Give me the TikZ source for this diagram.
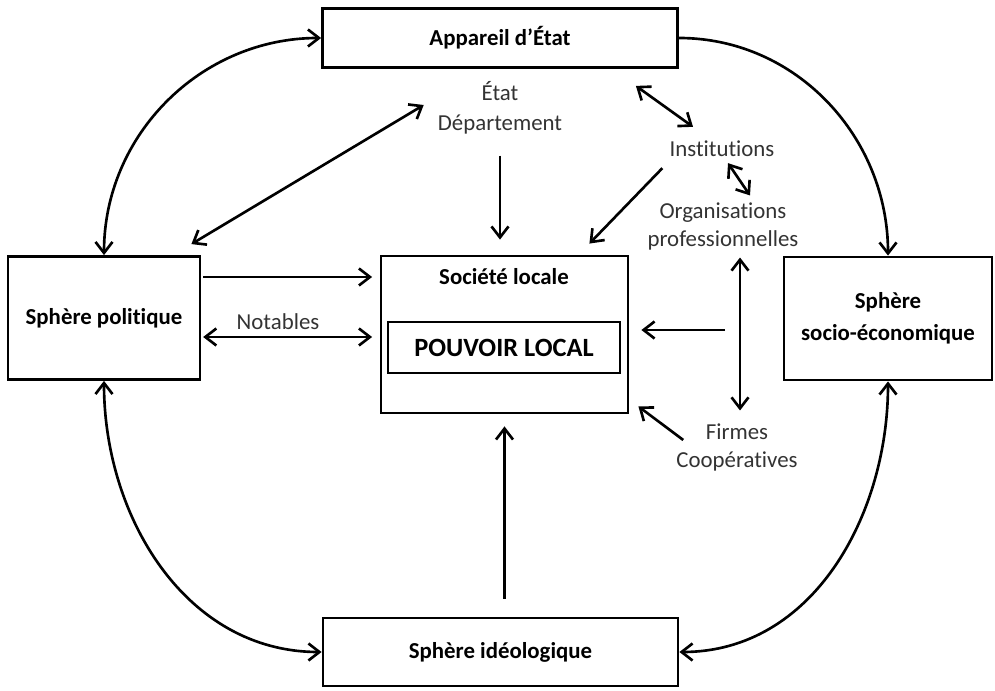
\documentclass[tikz,border=0pt]{standalone}
\usepackage{fontspec}
\setmainfont{Carlito}[Ligatures=NoCommon]
\usetikzlibrary{arrows.meta}

\tikzset{
  boite/.style={draw,line width=1.6pt,fill=white,inner sep=0pt,
    align=center,font=\bfseries\fontsize{13}{18}\selectfont},
  titre/.style={font=\bfseries\fontsize{13}{18}\selectfont},
  etiq/.style={text=black!80,align=center,font=\fontsize{13}{15.5}\selectfont},
  fleche/.style={line width=1.5pt,-{Straight Barb[length=2.2mm,width=3.4mm]}},
  dfleche/.style={line width=1.5pt,
    {Straight Barb[length=2.2mm,width=3.4mm]}-{Straight Barb[length=2.2mm,width=3.4mm]}}
}

\begin{document}
\begin{tikzpicture}
     \useasboundingbox (0,0) rectangle (19.9,13.8);
     \node[boite,minimum width=7.1cm,minimum height=1.18cm](appareil) at (10.0,13.04) {Appareil d’État};
     \node[boite,minimum width=3.84cm,minimum height=2.46cm](politique) at (2.08,7.44) {Sphère politique};
     \node[boite,minimum width=4.94cm,minimum height=3.14cm](societe) at (10.09,7.11) {};
     \node[titre](soclab) at (10.08,8.26) {Société locale};
     \node[boite,minimum width=4.64cm,minimum height=1.02cm,line width=1.4pt,
        font=\bfseries\fontsize{15}{18}\selectfont](pouvoir) at (10.08,6.85) {POUVOIR LOCAL};
     \node[boite,minimum width=4.16cm,minimum height=2.46cm](socio) at (17.76,7.43) {Sphère\\socio-économique};
     \node[boite,minimum width=7.1cm,minimum height=1.36cm](ideo) at (10.01,0.76) {Sphère idéologique};

     \node[etiq,font=\fontsize{13}{17}\selectfont](etat) at (10.0,11.64) {État\\Département};
     \node[etiq](inst) at (14.44,10.82) {Institutions};
     \node[etiq](orga) at (14.46,9.27) {Organisations\\professionnelles};
     \node[etiq](firmes) at (14.74,4.85) {Firmes\\Coopératives};
     \coordinate(depart) at (14.5,7.2);

     \draw[dfleche]
        (appareil.west) to[out=180,in=90] (politique.north);
     \draw[fleche]
        (appareil.east) to[out=0,in=90] (socio.north);
     \draw[dfleche]
        (politique.south) to[out=270,in=180] (ideo.west);
     \draw[dfleche]
        (socio.south) to[out=270,in=0] (ideo.east);

     \draw[dfleche]
        ([shift={(-0.2,0.22)}]politique.north east) --
        ([shift={(-0.16,0.06)}]etat.west);
     \draw[fleche,shorten <=3mm,shorten >=3mm]
        (etat.south) -- (etat.south |- societe.north);
     \draw[dfleche]
        ([shift={(-0.86,-0.34)}]appareil.south east) --
        ([shift={(-0.58,0.16)}]inst.north);
     \draw[fleche]
        ([shift={(-0.02,-0.1)}]inst.south west) --
        ([shift={(-0.8,0.22)}]societe.north east);
     \draw[dfleche]
        ([shift={(0.12,0)}]inst.south) --
        ([shift={(0.54,0.03)}]orga.north);
     \draw[dfleche]
        ([shift={(0.34,-0.03)}]orga.south) --
        ([shift={(0.06,0.15)}]firmes.north);
     \draw[fleche,shorten >=2.4mm]
        (depart) -- (depart -| societe.east);
     \draw[fleche]
        ([shift={(0.26,0.15)}]firmes.west) --
        ([shift={(0.18,0.16)}]societe.south east);
     \draw[fleche,shorten <=1pt,shorten >=1.5mm]
        (politique.east |- soclab) -- (societe.west |- soclab);
     \draw[dfleche,shorten <=1pt,shorten >=1.5mm]
        ([yshift=-0.38cm]politique.east) --
        ([yshift=-0.38cm]politique.east -| societe.west)
        node[etiq,pos=0.43,above](notables) {Notables};
     \draw[fleche,shorten <=3.6mm,shorten >=2.4mm]
        (societe.south |- ideo.north) -- (societe.south);
\end{tikzpicture}
\end{document}
